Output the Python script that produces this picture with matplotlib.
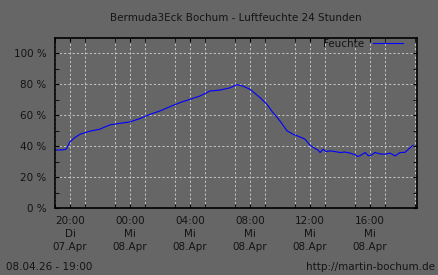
import matplotlib
matplotlib.use("Agg")
import matplotlib.pyplot as plt
import matplotlib.dates as mdates
from datetime import datetime, timedelta

# Messwerte: Stunden nach 07.04. 19:00 und Luftfeuchte in %
stunden = [0.0, 0.47, 0.73, 0.8, 1.0, 1.33, 1.67, 2.0, 2.33, 3.0, 3.33, 3.67,
           4.33, 5.0, 5.67, 6.33, 7.0, 7.67, 8.33, 9.0, 9.67, 10.33, 11.0,
           11.67, 12.13, 12.53, 13.0, 13.67, 14.13, 14.53, 15.0, 15.47, 15.87,
           16.33, 16.67, 17.0, 17.33, 17.53, 17.67, 17.87, 18.07, 18.33, 18.67,
           19.0, 19.33, 19.67, 20.0, 20.13, 20.33, 20.67, 20.87, 21.0, 21.33,
           21.67, 22.0, 22.33, 22.67, 23.0, 23.33, 23.67, 23.87]
feuchte = [37.5, 37.6, 38.0, 39.0, 42.8, 45.6, 47.7, 48.8, 49.7, 51.0, 52.5, 53.8,
           54.8, 55.7, 57.9, 60.6, 62.8, 65.6, 68.2, 70.3, 72.5, 75.7, 76.3,
           77.8, 79.8, 78.9, 76.8, 71.4, 67.1, 61.7, 56.3, 49.9, 47.7,
           46.0, 44.5, 40.6, 38.5, 37.5, 35.9, 38.0, 36.5, 37.0, 36.5,
           35.9, 36.2, 35.5, 34.5, 33.4, 33.8, 35.9, 34.0, 33.7, 35.9,
           35.0, 34.8, 35.5, 33.7, 35.9, 36.0, 39.0, 40.6]

start = datetime(2026, 4, 7, 19, 0)
zeiten = [start + timedelta(hours=h) for h in stunden]

tick_zeiten = [start + timedelta(hours=h) for h in (1, 5, 9, 13, 17, 21)]
tick_labels = ["20:00\nDi\n07.Apr", "00:00\nMi\n08.Apr", "04:00\nMi\n08.Apr",
               "08:00\nMi\n08.Apr", "12:00\nMi\n08.Apr", "16:00\nMi\n08.Apr"]

bg = "#666666"
txt = "#141414"

fig = plt.figure(figsize=(4.38, 2.75), dpi=100, facecolor=bg)
ax = fig.add_axes([55/438, 1 - 208/275, 362/438, 170/275])
ax.set_facecolor(bg)

ax.plot(zeiten, feuchte, color="#0000ff", lw=0.8, label="Feuchte")

ax.set_xlim(start, start + timedelta(hours=24.13))
ax.set_ylim(0, 110)

ax.set_xticks(tick_zeiten)
ax.set_xticklabels(tick_labels, fontsize=7.5, color=txt, linespacing=1.35)
ax.xaxis.set_minor_locator(mdates.HourLocator(byhour=range(1, 24, 2)))
ax.set_yticks(range(0, 101, 20))
ax.set_yticklabels(["%d %%" % v for v in range(0, 101, 20)], fontsize=7.5, color=txt)
ax.set_yticks(range(10, 110, 20), minor=True)

ax.tick_params(which="both", direction="in", top=True, right=True, length=3,
               color="black", pad=6)
ax.tick_params(axis="x", which="major", pad=6)
ax.grid(True, which="both", axis="x", color="#c8c8c8", ls=(0, (2.2, 2.2)), lw=0.7)
ax.grid(True, which="major", axis="y", color="#c8c8c8", ls=(0, (2.2, 2.2)), lw=0.7)
for s in ax.spines.values():
    s.set_color("black")
    s.set_linewidth(1.2)

leg = ax.legend(loc="upper right", bbox_to_anchor=(348/362, 1 - 1/170),
                frameon=False, fontsize=7.5, handlelength=2.9, borderaxespad=0,
                borderpad=0, handletextpad=0.8, markerfirst=False)
for t in leg.get_texts():
    t.set_color(txt)

fig.text(236/438, 1 - 18/275, "Bermuda3Eck Bochum - Luftfeuchte 24 Stunden",
         ha="center", va="center", fontsize=7.5, color=txt)
fig.text(6/438, 1 - 267/275, "08.04.26 - 19:00", ha="left", va="center",
         fontsize=7.5, color=txt)
fig.text(435/438, 1 - 267/275, "http://martin-bochum.de", ha="right", va="center",
         fontsize=7.5, color=txt)

fig.savefig("out.png", dpi=100, facecolor=bg)
